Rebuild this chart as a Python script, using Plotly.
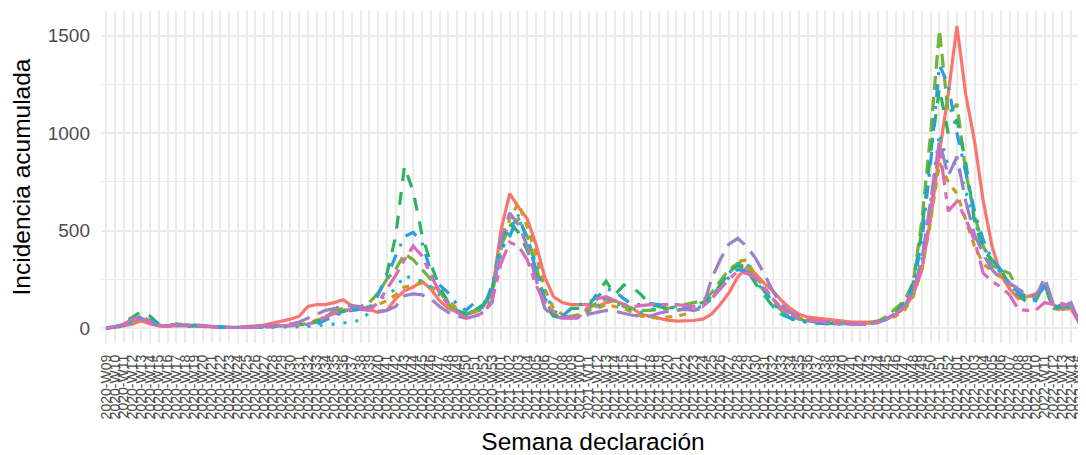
import plotly.graph_objects as go

# weeks 2020-W09 .. 2022-W15
weeks = (
    [f"2020-W{w:02d}" for w in range(9, 54)]
    + [f"2021-W{w:02d}" for w in range(1, 53)]
    + [f"2022-W{w:02d}" for w in range(1, 16)]
)

red = [0, 2, 10, 20, 35, 20, 10, 8, 12, 10, 8, 6, 4, 3, 2, 3, 5, 10, 15, 25,
       35, 45, 60, 110, 120, 120, 130, 145, 115, 100,
       95, 80, 90, 150, 190, 210, 240, 200, 140, 100,
       80, 70, 80, 110, 180, 500, 690, 620, 560, 430,
       260, 160, 130, 120, 120, 120, 110, 130, 140, 120,
       100, 70, 60, 50, 40, 35, 35, 38, 45, 70,
       120, 180, 260, 310, 280, 230, 190, 140, 100, 70,
       55, 50, 45, 40, 35, 30, 30, 30, 35, 50,
       70, 100, 170, 300, 560, 900, 1200, 1550, 1200, 960,
       650, 420, 270, 200, 150, 160, 175, 220, 120, 95, 100, 20]

gold = [0, 3, 15, 35, 50, 30, 12, 10, 15, 12, 10, 8, 5, 3, 2, 2, 2, 3, 5, 8,
        10, 12, 15, 25, 40, 60, 80, 90, 100, 100,
        110, 120, 140, 170, 210, 220, 230, 210, 190, 140,
        100, 70, 80, 110, 200, 400, 560, 640, 520, 380,
        200, 100, 70, 60, 60, 90, 100, 120, 110, 100,
        80, 60, 55, 50, 55, 60, 70, 90, 110, 150,
        220, 280, 340, 350, 270, 210, 150, 100, 70, 50,
        40, 35, 30, 28, 25, 22, 22, 25, 30, 45,
        60, 90, 160, 300, 550, 850, 750, 690, 550, 420,
        330, 290, 260, 220, 170, 160, 170, 210, 100, 90, 110, 30]

lime = [0, 4, 18, 40, 60, 35, 15, 10, 18, 15, 12, 8, 5, 3, 2, 2, 2, 3, 5, 8,
        10, 12, 15, 20, 35, 60, 90, 100, 105, 110,
        130, 180, 250, 300, 380, 350, 300, 250, 190, 120,
        80, 70, 90, 120, 170, 420, 520, 560, 470, 320,
        140, 70, 60, 60, 70, 100, 130, 150, 140, 110,
        100, 90, 90, 95, 100, 110, 120, 130, 140, 180,
        240, 300, 330, 310, 250, 190, 130, 90, 60, 45,
        35, 30, 28, 25, 22, 20, 20, 25, 35, 60,
        100, 140, 230, 550, 1000, 1530, 1100, 1150, 800, 580,
        420, 320, 300, 280, 190, 160, 170, 210, 110, 100, 120, 30]

green = [0, 5, 25, 55, 85, 60, 20, 12, 20, 18, 15, 10, 6, 4, 3, 2, 2, 3, 5, 8,
         10, 12, 15, 20, 30, 50, 70, 85, 95, 100,
         100, 170, 280, 470, 830, 700, 480, 330, 210, 130,
         90, 70, 90, 120, 200, 450, 540, 490, 400, 270,
         120, 60, 55, 100, 100, 110, 180, 240, 170, 220,
         210, 170, 120, 110, 100, 90, 100, 120, 130, 160,
         220, 290, 320, 300, 230, 170, 110, 70, 50, 40,
         35, 30, 25, 22, 20, 20, 20, 22, 30, 45,
         80, 130, 230, 500, 900, 1230, 1000, 1070, 850, 550,
         400, 350, 300, 220, 170, 130, 140, 230, 100, 120, 110, 30]

cyan = [0, 3, 12, 30, 45, 25, 12, 8, 12, 10, 8, 6, 4, 2, 2, 2, 2, 2, 3, 5,
        5, 5, 6, 8, 10, 15, 20, 25, 30, 40,
        80, 140, 170, 200, 270, 250, 240, 210, 170, 130,
        90, 70, 80, 100, 150, 380, 520, 560, 460, 330,
        180, 90, 60, 50, 55, 80, 110, 150, 130, 110,
        90, 80, 90, 110, 120, 120, 110, 100, 110, 150,
        220, 280, 330, 340, 250, 180, 110, 70, 45, 35,
        28, 25, 22, 20, 18, 18, 18, 20, 28, 45,
        70, 110, 190, 350, 650, 1000, 830, 850, 700, 550,
        420, 340, 280, 220, 180, 140, 150, 230, 110, 100, 110, 25]

blue = [0, 4, 15, 40, 60, 40, 15, 10, 15, 12, 10, 8, 5, 3, 2, 2, 2, 3, 4, 6,
        8, 10, 12, 15, 20, 40, 60, 80, 90, 95,
        100, 170, 260, 370, 470, 490, 440, 290, 220, 180,
        120, 90, 130, 100, 220, 400, 470, 580, 450, 300,
        150, 80, 60, 100, 120, 130, 160, 200, 190, 150,
        120, 120, 125, 120, 110, 100, 100, 110, 120, 150,
        200, 260, 300, 290, 250, 200, 130, 80, 50, 35,
        28, 25, 22, 20, 18, 18, 18, 20, 28, 45,
        75, 120, 210, 450, 850, 1350, 1250, 1000, 800, 600,
        450, 350, 300, 230, 180, 150, 140, 220, 100, 110, 120, 25]

purple = [0, 5, 15, 35, 50, 30, 12, 10, 15, 15, 12, 10, 6, 4, 2, 2, 3, 4, 6, 10,
          15, 20, 30, 50, 70, 90, 100, 110, 115, 110,
          95, 85, 90, 110, 165, 175, 170, 150, 110, 80,
          60, 50, 60, 80, 130, 450, 590, 530, 420, 250,
          100, 60, 50, 50, 50, 70, 80, 90, 85, 75,
          65, 60, 60, 75, 85, 90, 95, 90, 100, 250,
          350, 430, 460, 420, 360, 280, 190, 120, 80, 55,
          40, 35, 30, 25, 22, 20, 20, 22, 28, 45,
          70, 110, 190, 350, 650, 960, 780, 880, 650, 480,
          380, 300, 250, 230, 200, 170, 160, 260, 120, 110, 130, 20]

pink = [0, 5, 20, 45, 55, 30, 12, 10, 18, 15, 12, 8, 5, 3, 2, 2, 2, 3, 5, 8,
        10, 12, 15, 20, 30, 55, 75, 90, 95, 95,
        90, 130, 200, 270, 350, 420, 370, 270, 180, 120,
        80, 50, 55, 80, 140, 330, 440, 420, 350, 220,
        130, 80, 55, 50, 60, 110, 150, 160, 140, 120,
        110, 115, 120, 120, 120, 120, 115, 110, 110, 150,
        200, 250, 290, 280, 260, 210, 150, 100, 70, 50,
        40, 35, 30, 25, 22, 20, 20, 22, 28, 45,
        70, 110, 190, 300, 600, 930, 600, 650, 560, 450,
        280, 240, 210, 170, 95, 90, 92, 130, 120, 125, 110, 20]

series = [
    (red, "#F8766D", "solid"),
    (gold, "#C99A1F", "7px,7px"),
    (lime, "#72B33A", "14px,7px"),
    (green, "#2DB35E", "13px,11px"),
    (cyan, "#17B8C8", "3px,9px"),
    (blue, "#2A9EDF", "3px,9px,13px,9px"),
    (purple, "#9C80CC", "22px,9px"),
    (pink, "#D86CB8", "7px,7px,20px,7px"),
]

fig = go.Figure()
for vals, col, dash in series:
    fig.add_trace(
        go.Scatter(
            x=weeks,
            y=vals,
            mode="lines",
            line=dict(color=col, width=3.2, dash=dash),
            showlegend=False,
        )
    )

grid = "#EBEBEB"
# page body has an 8px margin, so the figure is sized and placed around it
fig.update_layout(
    width=1078,
    height=447,
    margin=dict(l=93, r=1, t=3, b=112),
    paper_bgcolor="white",
    plot_bgcolor="white",
    font=dict(family="Liberation Sans, Arial", color="black"),
    xaxis=dict(
        type="category",
        range=[-0.6, len(weeks) - 0.4],
        tickmode="array",
        tickvals=weeks,
        ticktext=weeks,
        tickangle=-90,
        tickfont=dict(size=14, color="#4D4D4D"),
        showgrid=True,
        gridcolor=grid,
        gridwidth=1.5,
        zeroline=False,
        showline=False,
        ticks="",
        ticklabelstandoff=8,
        automargin=False,
        title=dict(text="Semana declaración", font=dict(size=24.5), standoff=16),
    ),
    yaxis=dict(
        range=[-77.5, 1627.5],
        tickvals=[0, 500, 1000, 1500],
        tickfont=dict(size=19, color="#4D4D4D"),
        showgrid=True,
        gridcolor=grid,
        gridwidth=1.5,
        minor=dict(dtick=250, showgrid=True, gridcolor=grid, gridwidth=0.8),
        zeroline=False,
        showline=False,
        ticks="",
        ticklabelstandoff=10,
        automargin=False,
        title=dict(text="Incidencia acumulada", font=dict(size=24.5), standoff=10),
    ),
)

fig.write_html("out.html")
